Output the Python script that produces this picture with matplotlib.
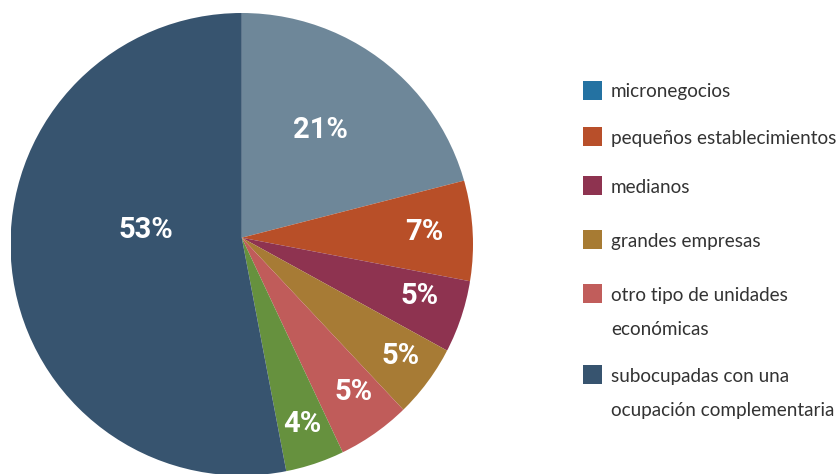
import matplotlib
matplotlib.use("Agg")
import numpy as np
import matplotlib.pyplot as plt


# datos del grafico (porcentajes, sentido horario desde las 12)
porcentajes = [21, 7, 5, 5, 5, 4, 53]
colores_pie = ["#6e8799", "#b84f28", "#8e3350", "#a77b35", "#c05c5a", "#66913e", "#37546f"]

leyenda = [
    "micronegocios",
    "pequeños establecimientos",
    "medianos",
    "grandes empresas",
    "otro tipo de unidades\neconómicas",
    "subocupadas con una\nocupación complementaria",
]
colores_leyenda = ["#2472a2", "#b84f2a", "#8e3350", "#a77b33", "#c15d5b", "#37546f"]

# ajustes de posicion de las etiquetas (fraccion del radio, giro en grados)
dist_etiqueta = [0.60, 0.79, 0.80, 0.84, 0.80, 0.82, 0.42]
giro_etiqueta = [3.0, 2.0, 3.4, 2.8, 2.8, 0.5, -13.8]
y_leyenda = [90, 136.5, 185.5, 239, 293.5, 374.5]

W, H = 840, 474
fig = plt.figure(figsize=(W / 100, H / 100), dpi=100)

# el circulo y el vertice de las cunas no coinciden del todo en el original
cx, cy, r = 241.75, 244.25, 231.25
vertice = (0, (cy - 237.7) / r)
ax = fig.add_axes([(cx - r) / W, (H - cy - r) / H, 2 * r / W, 2 * r / H])
cunas, _ = ax.pie(
    porcentajes,
    colors=colores_pie,
    startangle=90,
    counterclock=False,
    radius=1.1,
    center=vertice,
    wedgeprops={"linewidth": 0},
)
ax.set_xlim(-1, 1)
ax.set_ylim(-1, 1)
ax.axis("off")
borde = plt.Circle((0, 0), 1, transform=ax.transData)
for cuna in cunas:
    cuna.set_clip_on(True)
    cuna.set_clip_path(borde)

for cuna, pct, d, g in zip(cunas, porcentajes, dist_etiqueta, giro_etiqueta):
    ang = np.deg2rad((cuna.theta1 + cuna.theta2) / 2 + g)
    ax.text(
        d * np.cos(ang),
        d * np.sin(ang),
        f"{pct}%",
        ha="center",
        va="center",
        color="white",
        fontsize=21,
        fontweight="bold",
        family=["Roboto", "DejaVu Sans"],
    )

# leyenda manual
for texto, color, y in zip(leyenda, colores_leyenda, y_leyenda):
    lado = 19
    fig.patches.append(
        plt.Rectangle(
            (583 / W, (H - y - lado / 2) / H),
            lado / W,
            lado / H,
            transform=fig.transFigure,
            facecolor=color,
            edgecolor="none",
        )
    )
    for k, linea in enumerate(texto.split("\n")):
        fig.text(
            611 / W,
            (H - y - 2 - 34 * k) / H,
            linea,
            ha="left",
            va="center",
            color="#333333",
            fontsize=13.6,
            family=["Lato", "DejaVu Sans"],
        )

fig.savefig("out.png", dpi=100)
